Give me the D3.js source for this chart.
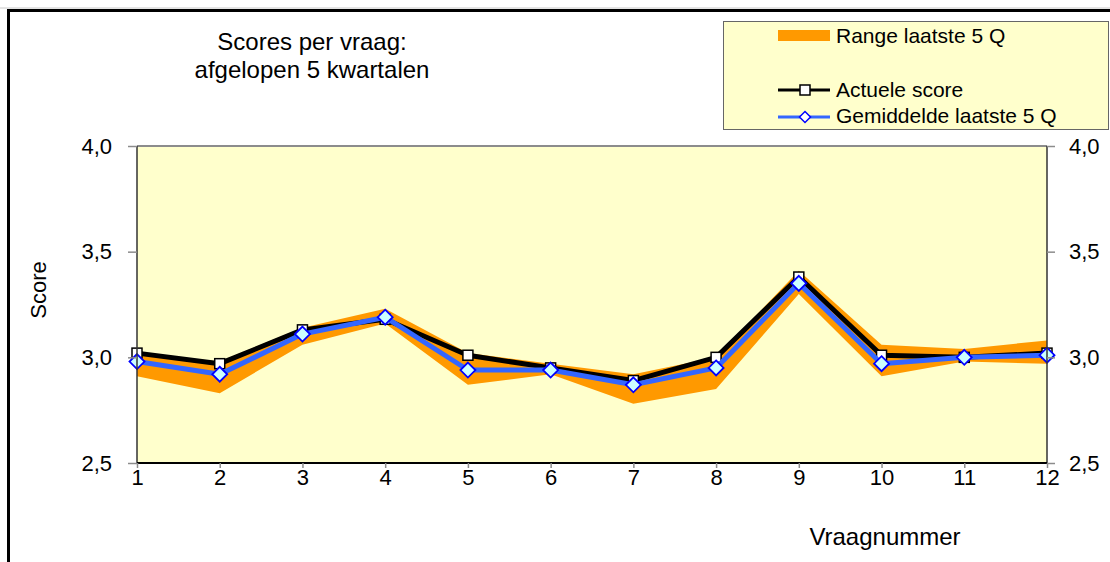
<!DOCTYPE html>
<html>
<head>
<meta charset="utf-8">
<script src="https://cdn.jsdelivr.net/npm/d3@7/dist/d3.min.js"></script>
<style>
  html, body { margin: 0; padding: 0; background: #fff; }
  svg { display: block; font-family: "Liberation Sans", Arial, sans-serif; }
</style>
</head>
<body>
<svg id="chart" width="1110" height="562"></svg>
<script>
// ---- Data ----
const questions = [1, 2, 3, 4, 5, 6, 7, 8, 9, 10, 11, 12];
const actualScore = [3.02, 2.97, 3.13, 3.18, 3.01, 2.95, 2.89, 3.00, 3.38, 3.01, 3.00, 3.02];
const averageLast5 = [2.98, 2.92, 3.11, 3.19, 2.94, 2.94, 2.87, 2.95, 3.35, 2.97, 3.00, 3.01];
const rangeMin = [2.91, 2.83, 3.06, 3.16, 2.87, 2.92, 2.78, 2.85, 3.30, 2.91, 2.98, 2.97];
const rangeMax = [3.02, 2.98, 3.14, 3.23, 3.02, 2.97, 2.92, 3.00, 3.41, 3.06, 3.04, 3.08];
const yTicks = [2.5, 3.0, 3.5, 4.0];
const titleLines = ["Scores per vraag:", "afgelopen 5 kwartalen"];
const legendLabels = ["Range laatste 5 Q", "Actuele score", "Gemiddelde laatste 5 Q"];
const yTitle = "Score";
const xTitle = "Vraagnummer";

// ---- Layout ----
const svg = d3.select("#chart");
const plot = { left: 137, right: 1047, top: 146, bottom: 463 };
const fmt = d => d3.format(".1f")(d).replace(".", ",");

// outer chart border (clipped on right/bottom)
svg.append("line").attr("x1", 0).attr("x2", 1110).attr("y1", 8).attr("y2", 8)
  .attr("stroke", "#c8c8c8").attr("stroke-width", 1);
svg.append("rect").attr("x", 8.5).attr("y", 10.5).attr("width", 1130).attr("height", 600)
  .attr("fill", "#fff").attr("stroke", "#000").attr("stroke-width", 3);

const x = d3.scalePoint().domain(questions).range([plot.left, plot.right]);
const y = d3.scaleLinear().domain([2.5, 4.0]).range([plot.bottom, plot.top]);

// plot background
svg.append("rect").attr("x", plot.left).attr("y", plot.top)
  .attr("width", plot.right - plot.left).attr("height", plot.bottom - plot.top)
  .attr("fill", "#FFFFCC");
svg.append("line").attr("x1", plot.left).attr("x2", plot.right)
  .attr("y1", plot.top).attr("y2", plot.top).attr("stroke", "#8c8c8c").attr("stroke-width", 2);

// range band
const bandData = questions.map((q, i) => ({ q, lo: rangeMin[i], hi: rangeMax[i] }));
svg.append("path").datum(bandData)
  .attr("fill", "#FF9900")
  .attr("d", d3.area().x(d => x(d.q)).y0(d => y(d.lo)).y1(d => y(d.hi)));

// actual score line
const actData = questions.map((q, i) => ({ q, v: actualScore[i] }));
const avgData = questions.map((q, i) => ({ q, v: averageLast5[i] }));
const line = d3.line().x(d => x(d.q)).y(d => y(d.v));

svg.append("path").datum(actData).attr("fill", "none")
  .attr("stroke", "#000").attr("stroke-width", 5).attr("stroke-linejoin", "round")
  .attr("d", line);
svg.selectAll(".sq").data(actData).enter().append("rect")
  .attr("x", d => x(d.q) - 5).attr("y", d => y(d.v) - 5)
  .attr("width", 10).attr("height", 10)
  .attr("fill", "#fff").attr("stroke", "#000").attr("stroke-width", 1.5);

svg.append("path").datum(avgData).attr("fill", "none")
  .attr("stroke", "#3366FF").attr("stroke-width", 5).attr("stroke-linejoin", "round")
  .attr("d", line);
const diamond = (cx, cy, r) => `M${cx},${cy - r}L${cx + r},${cy}L${cx},${cy + r}L${cx - r},${cy}Z`;
svg.selectAll(".dm").data(avgData).enter().append("path")
  .attr("d", d => diamond(x(d.q), y(d.v), 7.5))
  .attr("fill", "#CCFFFF").attr("stroke", "#0000FF").attr("stroke-width", 1.8);

// axes
const axLeft = svg.append("g").attr("transform", `translate(${plot.left},0)`)
  .call(d3.axisLeft(y).tickValues(yTicks).tickFormat(fmt).tickSize(9).tickPadding(16));
const axRight = svg.append("g").attr("transform", `translate(${plot.right},0)`)
  .call(d3.axisRight(y).tickValues(yTicks).tickFormat(fmt).tickSize(8).tickPadding(14));
const axBottom = svg.append("g").attr("transform", `translate(0,${plot.bottom})`)
  .call(d3.axisBottom(x).tickSize(5).tickPadding(1));
[axLeft, axRight, axBottom].forEach(g => {
  g.attr("font-size", 22);
  g.selectAll("text").attr("font-size", 22).attr("fill", "#000")
    .attr("font-family", "'Liberation Sans', Arial, sans-serif");
  g.selectAll(".tick line").attr("stroke", "#8c8c8c").attr("stroke-width", 1.5);
});
axLeft.select(".domain").attr("stroke", "#333").attr("stroke-width", 1.5).attr("d", `M0,${plot.top}V${plot.bottom}`);
axRight.select(".domain").attr("stroke", "#333").attr("stroke-width", 1.5).attr("d", `M0,${plot.top}V${plot.bottom}`);
axBottom.select(".domain").attr("stroke", "#000").attr("stroke-width", 2).attr("d", `M${plot.left},0H${plot.right}`);

// titles
svg.append("text").attr("x", 312).attr("y", 50).attr("text-anchor", "middle")
  .attr("font-size", 24).text(titleLines[0]);
svg.append("text").attr("x", 312).attr("y", 78).attr("text-anchor", "middle")
  .attr("font-size", 24).text(titleLines[1]);
svg.append("text").attr("transform", "translate(46,290) rotate(-90)")
  .attr("text-anchor", "middle").attr("font-size", 22).text(yTitle);
svg.append("text").attr("x", 885).attr("y", 545).attr("text-anchor", "middle")
  .attr("font-size", 24).text(xTitle);

// legend
const lg = svg.append("g");
lg.append("rect").attr("x", 723.5).attr("y", 21.5).attr("width", 385).attr("height", 108)
  .attr("fill", "#FFFFCC").attr("stroke", "#666").attr("stroke-width", 1);
lg.append("rect").attr("x", 778).attr("y", 30).attr("width", 52).attr("height", 11).attr("fill", "#FF9900");
lg.append("line").attr("x1", 778).attr("x2", 830).attr("y1", 90).attr("y2", 90)
  .attr("stroke", "#000").attr("stroke-width", 3);
lg.append("rect").attr("x", 800).attr("y", 85).attr("width", 10).attr("height", 10)
  .attr("fill", "#fff").attr("stroke", "#000").attr("stroke-width", 1.5);
lg.append("line").attr("x1", 778).attr("x2", 830).attr("y1", 117).attr("y2", 117)
  .attr("stroke", "#3366FF").attr("stroke-width", 3);
lg.append("path").attr("d", diamond(805, 117, 5.5))
  .attr("fill", "#fff").attr("stroke", "#0000FF").attr("stroke-width", 1.5);
const legY = [43, 97, 123];
legendLabels.forEach((t, i) => {
  lg.append("text").attr("x", 836).attr("y", legY[i]).attr("font-size", 21).text(t);
});
</script>
</body>
</html>
